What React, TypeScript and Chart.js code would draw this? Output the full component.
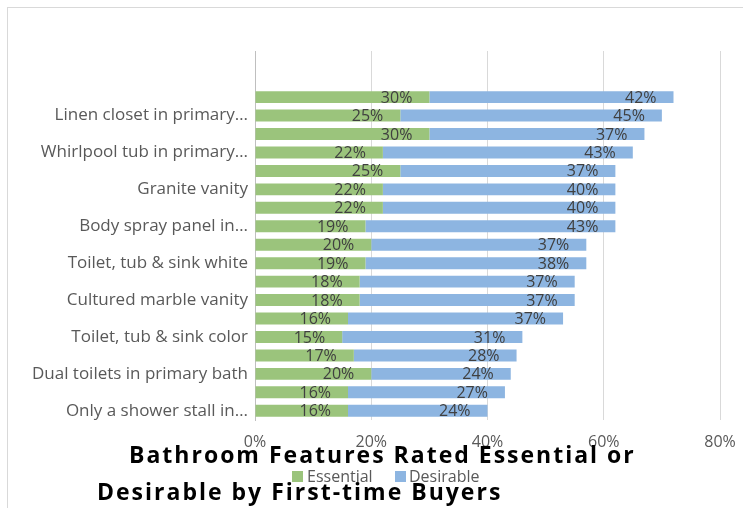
import React, { useEffect, useRef } from "react";
import { Chart, registerables } from "chart.js";

Chart.register(...registerables);

// Top two rows are empty in the source chart; only every other label is shown.
const categories: string[] = [
  "", "", "",
  "Linen closet in primary…", "",
  "Whirlpool tub in primary…", "",
  "Granite vanity", "",
  "Body spray panel in…", "",
  "Toilet, tub & sink white", "",
  "Cultured marble vanity", "",
  "Toilet, tub & sink color", "",
  "Dual toilets in primary bath", "",
  "Only a shower stall in…",
];

const essential: (number | null)[] = [
  null, null, 30, 25, 30, 22, 25, 22, 22, 19, 20, 19, 18, 18, 16, 15, 17, 20, 16, 16,
];
const desirable: (number | null)[] = [
  null, null, 42, 45, 37, 43, 37, 40, 40, 43, 37, 38, 37, 37, 37, 31, 28, 24, 27, 24,
];

const xTicks: number[] = [0, 20, 40, 60, 80];
const seriesNames: string[] = ["Essential", "Desirable"];
const titleLines: string[] = ["Bathroom Features Rated Essential or", "Desirable by First-time Buyers"];

const GREEN = "#9bc47c";
const BLUE = "#8db5e1";
const FONT = '"Open Sans", "DejaVu Sans", sans-serif';

const overlayPlugin = {
  id: "overlay",
  afterDatasetsDraw(chart: any) {
    const ctx = chart.ctx;
    ctx.save();
    ctx.font = `16px ${FONT}`;
    ctx.fillStyle = "#404040";
    ctx.textAlign = "right";
    ctx.textBaseline = "middle";
    chart.data.datasets.forEach((ds: any, di: number) => {
      const meta = chart.getDatasetMeta(di);
      meta.data.forEach((el: any, i: number) => {
        const v = ds.data[i];
        if (v === null || v === undefined) return;
        ctx.fillText(`${v}%`, el.x - 17, el.y + 1);
      });
    });
    ctx.restore();
  },
  afterDraw(chart: any) {
    const ctx = chart.ctx;
    ctx.save();
    // legend
    const items = [
      { name: seriesNames[0], color: GREEN, sx: 292, tx: 307 },
      { name: seriesNames[1], color: BLUE, sx: 395, tx: 409 },
    ];
    ctx.font = `16px ${FONT}`;
    ctx.textBaseline = "middle";
    ctx.textAlign = "left";
    items.forEach((it) => {
      ctx.fillStyle = it.color;
      ctx.fillRect(it.sx, 471, 11, 11);
      ctx.fillStyle = "#595959";
      ctx.fillText(it.name, it.tx, 477);
    });
    // title
    ctx.font = `bold 23px ${FONT}`;
    ctx.fillStyle = "#000000";
    ctx.textBaseline = "alphabetic";
    ctx.textAlign = "left";
    try {
      (ctx as any).letterSpacing = "2px";
    } catch (e) {}
    ctx.fillText(titleLines[0], 129, 463);
    ctx.fillText(titleLines[1], 97, 500);
    ctx.restore();
  },
};

export default function App() {
  const ref = useRef<HTMLCanvasElement | null>(null);
  useEffect(() => {
    if (!ref.current) return;
    const chart = new Chart(ref.current, {
      type: "bar",
      data: {
        labels: categories,
        datasets: [
          {
            label: seriesNames[0],
            data: essential,
            backgroundColor: GREEN,
            barPercentage: 0.65,
            categoryPercentage: 1,
            borderWidth: 0,
          },
          {
            label: seriesNames[1],
            data: desirable,
            backgroundColor: BLUE,
            barPercentage: 0.65,
            categoryPercentage: 1,
            borderWidth: 0,
          },
        ],
      },
      options: {
        indexAxis: "y",
        responsive: false,
        animation: false,
        layout: { padding: { top: 51, right: 23, bottom: 0, left: 0 } },
        plugins: {
          legend: { display: false },
          title: { display: false },
          tooltip: { enabled: false },
        },
        scales: {
          x: {
            stacked: true,
            min: 0,
            max: 80,
            afterBuildTicks: (s: any) => {
              s.ticks = xTicks.map((v) => ({ value: v }));
            },
            afterFit: (s: any) => {
              s.height = 88;
              s.paddingLeft = 0;
              s.paddingRight = 0;
            },
            ticks: {
              callback: (v: any) => `${v}%`,
              color: "#595959",
              font: { family: FONT, size: 16 },
              padding: 13,
              maxRotation: 0,
            },
            grid: { color: "#d9d9d9", lineWidth: 1, drawTicks: false },
            border: { display: false },
          },
          y: {
            stacked: true,
            afterFit: (s: any) => {
              s.width = 255;
              s.paddingTop = 0;
              s.paddingBottom = 0;
            },
            ticks: {
              autoSkip: false,
              color: "#595959",
              font: { family: FONT, size: 17 },
              padding: 7,
            },
            grid: { display: false, drawTicks: false },
            border: { display: true, color: "#bfbfbf", width: 1 },
          },
        },
      },
      plugins: [overlayPlugin],
    });
    return () => chart.destroy();
  }, []);

  return (
    <div style={{ position: "absolute", left: 0, top: 0, width: 743, height: 508, overflow: "hidden", background: "#fff" }}>
      <div
        style={{
          position: "absolute",
          left: 7,
          top: 7,
          width: 800,
          height: 600,
          border: "1px solid #d9d9d9",
        }}
      />
      <canvas ref={ref} width={743} height={508} style={{ position: "absolute", left: 0, top: 0 }} />
    </div>
  );
}
